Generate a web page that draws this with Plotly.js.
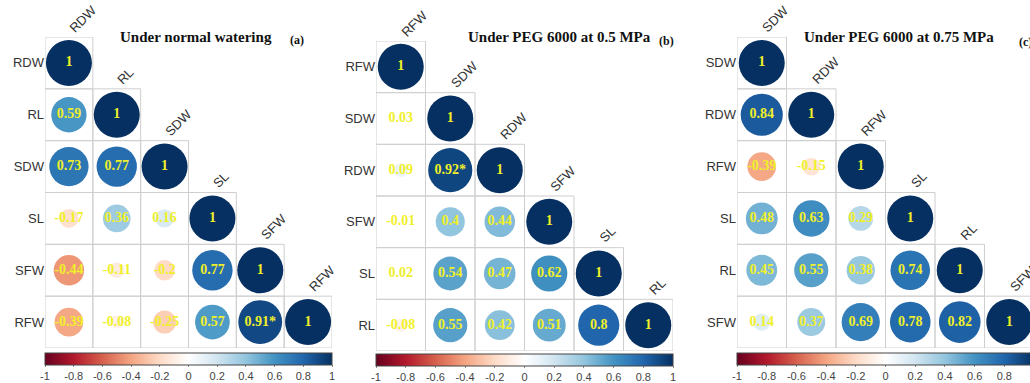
<!DOCTYPE html>
<html>
<head>
<meta charset="utf-8">
<script src="https://cdn.plot.ly/plotly-3.0.1.min.js"></script>
<style>html,body{margin:0;padding:0;background:#fff;}#chart{width:1030px;height:383px;}</style>
</head>
<body>
<div id="chart"></div>
<script>
// ---- Data ----
const varsA = ["RDW", "RL", "SDW", "SL", "SFW", "RFW"];
const corrA = [
  [1],
  [0.59, 1],
  [0.73, 0.77, 1],
  [-0.17, 0.36, 0.16, 1],
  [-0.44, -0.11, -0.2, 0.77, 1],
  [-0.39, -0.08, -0.25, 0.57, 0.91, 1]
];
const sigA = [[5, 4]];
const titleA = "Under normal watering";

const varsB = ["RFW", "SDW", "RDW", "SFW", "SL", "RL"];
const corrB = [
  [1],
  [0.03, 1],
  [0.09, 0.92, 1],
  [-0.01, 0.4, 0.44, 1],
  [0.02, 0.54, 0.47, 0.62, 1],
  [-0.08, 0.55, 0.42, 0.51, 0.8, 1]
];
const sigB = [[2, 1]];
const titleB = "Under PEG 6000 at 0.5 MPa";

const varsC = ["SDW", "RDW", "RFW", "SL", "RL", "SFW"];
const corrC = [
  [1],
  [0.84, 1],
  [-0.39, -0.15, 1],
  [0.48, 0.63, 0.29, 1],
  [0.45, 0.55, 0.38, 0.74, 1],
  [0.14, 0.37, 0.69, 0.78, 0.82, 1]
];
const sigC = [];
const titleC = "Under PEG 6000 at 0.75 MPa";

const cbTicks = [-1, -0.8, -0.6, -0.4, -0.2, 0, 0.2, 0.4, 0.6, 0.8, 1];

// ---- Styling ----
const W = 1030, H = 383;
const rdbu = ["#67001F", "#B2182B", "#D6604D", "#F4A582", "#FDDBC7", "#FFFFFF",
              "#D1E5F0", "#92C5DE", "#4393C3", "#2166AC", "#053061"];
const colorscale = rdbu.map((c, i) => [i / (rdbu.length - 1), c]);
const numColor = "#f0f02a";
const fullDiam = 46;

const panels = [
  {vars: varsA, corr: corrA, sig: sigA, title: titleA, tag: "(a)",
   px: [45, 332], py: [37, 348], titleX: 118, titleY: 37, tagX: 288, tagY: 40, cbY: 353},
  {vars: varsB, corr: corrB, sig: sigB, title: titleB, tag: "(b)",
   px: [376, 673], py: [41, 351], titleX: 466, titleY: 37, tagX: 657, tagY: 41, cbY: 354},
  {vars: varsC, corr: corrC, sig: sigC, title: titleC, tag: "(c)",
   px: [737, 1034], py: [37, 348], titleX: 802, titleY: 37, tagX: 1017, tagY: 42, cbY: 353}
];

const traces = [];
const shapes = [];
const annotations = [];
const layout = {
  width: W, height: H,
  margin: {l: 0, r: 0, t: 0, b: 0, autoexpand: false},
  paper_bgcolor: "#fff", plot_bgcolor: "rgba(0,0,0,0)",
  showlegend: false,
  shapes: shapes, annotations: annotations
};

panels.forEach((p, k) => {
  const n = p.vars.length;
  const xa = k === 0 ? "x" : "x" + (k + 1);
  const ya = k === 0 ? "y" : "y" + (k + 1);
  const xaKey = k === 0 ? "xaxis" : "xaxis" + (k + 1);
  const yaKey = k === 0 ? "yaxis" : "yaxis" + (k + 1);
  const cellW = (p.px[1] - p.px[0]) / n;
  const x1px = Math.min(p.px[1], W);
  const xmax = -0.5 + (x1px - p.px[0]) / cellW;

  layout[xaKey] = {
    domain: [p.px[0] / W, x1px / W], range: [-0.5, xmax],
    showgrid: false, zeroline: false, showticklabels: false, ticks: "", fixedrange: true,
    anchor: ya
  };
  layout[yaKey] = {
    domain: [1 - p.py[1] / H, 1 - p.py[0] / H], range: [n - 0.5, -0.5],
    showgrid: false, zeroline: false, ticks: "", anchor: xa,
    tickvals: p.vars.map((v, i) => i), ticktext: p.vars,
    tickfont: {family: "Liberation Sans, Arial, sans-serif", size: 13, color: "#333"},
    fixedrange: true
  };

  const xs = [], ys = [], vals = [], sizes = [], texts = [];
  p.corr.forEach((row, i) => {
    row.forEach((v, j) => {
      xs.push(j); ys.push(i); vals.push(v);
      sizes.push(fullDiam * Math.sqrt(Math.abs(v)));
      const star = p.sig.some(s => s[0] === i && s[1] === j) ? "*" : "";
      texts.push(String(v) + star);
      shapes.push({type: "rect", xref: xa, yref: ya, x0: j - 0.5, x1: j + 0.5, y0: i - 0.5, y1: i + 0.5,
                   line: {color: "#cfcfcf", width: 1}, layer: "below"});
    });
  });

  traces.push({
    type: "scatter", mode: "markers+text", xaxis: xa, yaxis: ya,
    x: xs, y: ys, text: texts, textposition: "middle center",
    textfont: {family: "Liberation Serif, Times New Roman, serif", size: 14, color: numColor, weight: "bold"},
    hoverinfo: "skip",
    marker: {
      size: sizes, color: vals, colorscale: colorscale, cmin: -1, cmax: 1,
      line: {width: 0}, opacity: 1,
      showscale: true,
      colorbar: {
        orientation: "h", xref: "paper", yref: "paper",
        x: ((p.px[0] + p.px[1]) / 2) / W, xanchor: "center",
        y: 1 - p.cbY / H, yanchor: "top",
        len: p.px[1] - p.px[0], lenmode: "pixels",
        thickness: 12, thicknessmode: "pixels",
        outlinewidth: 1, outlinecolor: "#444",
        xpad: 0, ypad: 0,
        tickvals: cbTicks, ticktext: cbTicks.map(String),
        ticks: "outside", ticklen: 2, tickcolor: "#888",
        tickfont: {family: "Liberation Sans, Arial, sans-serif", size: 11, color: "#444"}
      }
    }
  });

  // column labels (rotated)
  p.vars.forEach((v, j) => {
    annotations.push({
      xref: xa, yref: ya, x: j, y: j - 0.5, text: v, showarrow: false,
      textangle: -45, xanchor: "left", yanchor: "bottom", xshift: -5, yshift: -1,
      font: {family: "Liberation Sans, Arial, sans-serif", size: 13, color: "#333"}
    });
  });

  annotations.push({
    xref: "paper", yref: "paper", x: p.titleX / W, y: 1 - p.titleY / H,
    xanchor: "left", yanchor: "middle", showarrow: false, text: "<b>" + p.title + "</b>",
    font: {family: "Liberation Serif, Times New Roman, serif", size: 15, color: "#111"}
  });
  annotations.push({
    xref: "paper", yref: "paper", x: p.tagX / W, y: 1 - p.tagY / H,
    xanchor: "left", yanchor: "middle", showarrow: false, text: "<b>" + p.tag + "</b>",
    font: {family: "Liberation Serif, Times New Roman, serif", size: 12, color: "#111"}
  });
});

Plotly.newPlot("chart", traces, layout, {staticPlot: true, displayModeBar: false});
</script>
</body>
</html>
